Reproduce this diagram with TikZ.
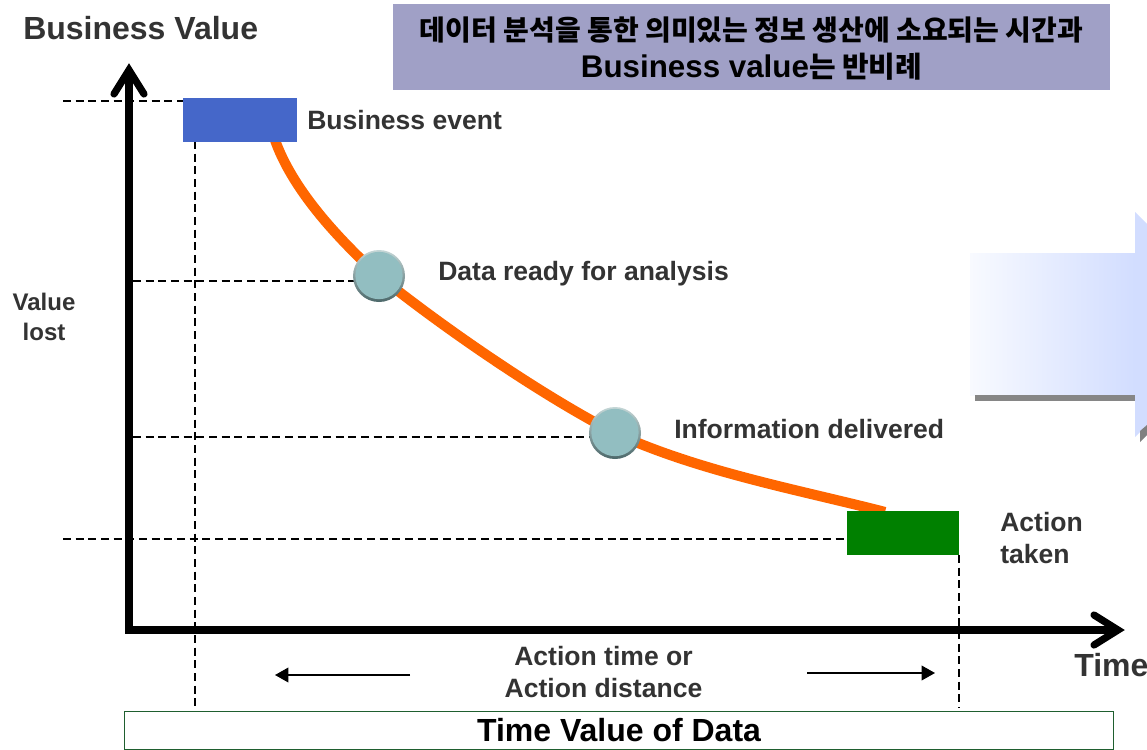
\documentclass[tikz,border=0pt]{standalone}
\usepackage{fontspec}
\setmainfont{Liberation Sans}
\newfontfamily\cjk{Noto Sans CJK KR}
\usetikzlibrary{arrows.meta,calc}
\definecolor{curveor}{HTML}{FF6600}
\definecolor{bannerc}{HTML}{A0A0C6}
\definecolor{blueb}{HTML}{4567C9}
\definecolor{greenb}{HTML}{008000}
\definecolor{ballc}{HTML}{92BEC1}
\definecolor{labelc}{HTML}{333333}
\definecolor{frameg}{HTML}{1F5F2F}
\definecolor{blockl}{HTML}{F8FAFF}
\definecolor{blockr}{HTML}{D2DDFF}
\definecolor{balllt}{HTML}{C4D6D6}
\definecolor{balldk}{HTML}{4C686A}
\tikzset{
  x=0.75pt,y=-0.75pt,
  lab/.style={font=\bfseries\fontsize{19.9pt}{24pt}\selectfont,text=labelc,inner sep=0pt,align=left},
  guide/.style={draw=black,line width=1pt,dash pattern=on 6pt off 3.5pt},
  axisl/.style={draw=black,line width=5.4pt},
  axishead/.style={draw=black,line width=5.4pt,line cap=round,line join=miter,miter limit=10},
  timearrow/.style={draw=black,line width=1.1pt,-{Triangle[length=10pt,width=11pt]}},
  evbox/.style={minimum height=33pt,inner sep=0pt,draw=none},
  ball/.style={circle,minimum size=35.5pt,inner sep=0pt,fill=ballc},
  ballrim/.style={top color=balllt,bottom color=balldk},
}
\begin{document}
\begin{tikzpicture}
\useasboundingbox (0,0) rectangle (1147,750);
\fill[white] (0,0) rectangle (1147,750);
% background block arrow
\shade[left color=blockl,right color=blockr] (970,253) rectangle (1135,395);
\fill[gray!95] (975,395) rectangle (1135,401);
\fill[blockr] (1135,212) -- (1147,224) -- (1147,425) -- (1135,437) -- cycle;
\fill[gray] (1140,442) -- (1140,431) -- (1147,425) -- (1147,435) -- cycle;
% anchors
\coordinate (orig) at (129,630);
\coordinate (ytop) at (129,70);
\coordinate (xend) at (1118,630);
\coordinate (ybarbl) at (114,94);
\coordinate (ybarbr) at (144,94);
\coordinate (xbarbu) at (1094,615);
\coordinate (xbarbd) at (1094,645);
\coordinate (g1) at (63,101);
\coordinate (g2) at (133,281);
\coordinate (g3) at (133,437);
\coordinate (g4) at (63,539);
\coordinate (v1a) at (195,141);
\coordinate (v1b) at (195,708);
\coordinate (v2a) at (959,555);
\coordinate (v2b) at (959,708);
\coordinate (al1) at (410,675);
\coordinate (al2) at (275,675);
\coordinate (ar1) at (807,673);
\coordinate (ar2) at (935,673);
\coordinate (c1) at (379,276);
\coordinate (c2) at (615,433);
% guides
\draw[guide] (g1) -- (183,101);
\draw[guide] (g2) -- (354,281);
\draw[guide] (g3) -- (590,437);
\draw[guide] (g4) -- (847,539);
\draw[guide] (v1a) -- (v1b);
\draw[guide] (v2a) -- (v2b);
% curve
\draw[curveor,line width=7.6pt] (275,140) .. controls (292,188) and (335,236) .. (c1)
  .. controls (449,332) and (545,397) .. (c2)
  .. controls (700,472) and (800,490) .. (885,512);
\node[evbox,fill=blueb,minimum width=85.5pt] (biz) at (240,120) {};
\node[evbox,fill=greenb,minimum width=84pt] (act) at (903,533) {};
% axes
\draw[axisl] (orig) -- (ytop);
\draw[axisl] (125.4,630) -- (xend);
\draw[axishead] (ybarbl) -- (ytop) -- (ybarbr);
\draw[axishead] (xbarbu) -- (xend) -- (xbarbd);
% balls
\shade[ballrim] (c1) circle (26);
\node[ball] (b1) at (379,275.5) {};
\shade[ballrim] (c2) circle (26);
\node[ball] (b2) at (615,432.5) {};
% banner
\fill[bannerc] (393,4) rectangle (1110,90);
\node[inner sep=0pt] (ban1) at (751.5,30) {\cjk\bfseries\fontsize{21pt}{26pt}\selectfont 데이터 분석을 통한 의미있는 정보 생산에 소요되는 시간과};
\node[inner sep=0pt] (ban2) at (751.5,67) {\bfseries\fontsize{23.5pt}{26pt}\selectfont Business value{\cjk\fontsize{21.7pt}{26pt}\selectfont 는 반비례}};
% labels
\node[inner sep=0pt,anchor=west,text=labelc,font=\bfseries\fontsize{24pt}{26pt}\selectfont] (bv) at (23,28) {Business Value};
\node[lab,anchor=west] (l1) at (307,120) {Business event};
\node[lab,anchor=west] (l2) at (438,274) {Data ready for analysis};
\node[lab,anchor=west] (l3) at (674,429) {Information delivered};
\node[lab,anchor=west] (l4) at (1000,538) {Action\\taken};
\node[lab,align=center,font=\bfseries\fontsize{18pt}{22pt}\selectfont] (l5) at (44,317) {Value\\lost};
\node[lab,align=center] (l6) at (603.5,672) {Action time or\\Action distance};
\node[inner sep=0pt,anchor=west,text=labelc,font=\bfseries\fontsize{24pt}{26pt}\selectfont] (tm) at (1074,665) {Time};
% arrows
\draw[timearrow] (al1) -- (al2);
\draw[timearrow] (ar1) -- (ar2);
% bottom box
\node[draw=frameg,line width=0.8pt,fill=white,minimum width=742pt,minimum height=29pt,inner sep=0pt,font=\bfseries\fontsize{24pt}{26pt}\selectfont] (tv) at (619,730.5) {Time Value of Data};
\end{tikzpicture}
\end{document}
